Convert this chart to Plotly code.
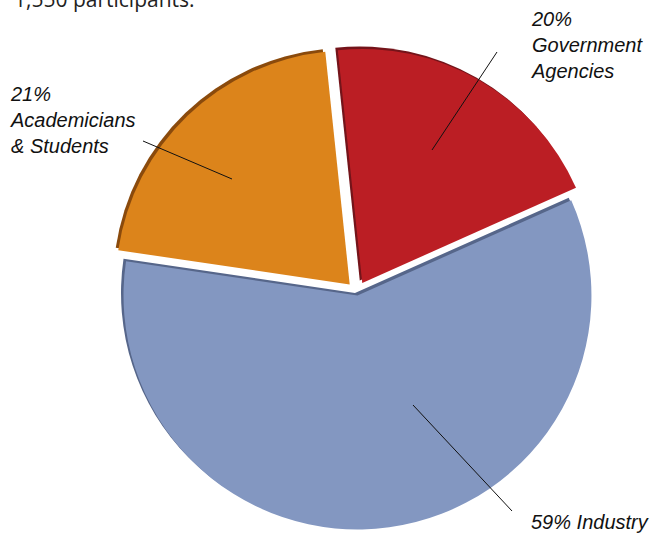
import plotly.graph_objects as go

# ---- data ----
categories = ["Government Agencies", "Industry", "Academicians & Students"]
values = [20, 59, 21]
label_text = ["20%<br>Government<br>Agencies", "59% Industry", "21%<br>Academicians<br>& Students"]
colors = ["#BB1E24", "#8397C1", "#DC841B"]
shadow_colors = ["#74141A", "#56668A", "#8A4A0C"]
pulls = [0.045, 0.015, 0.045]
caption = "1,550 participants."

W, H = 654, 537

def px(x):
    return x / W

def py(y):
    return 1 - y / H

dom_x = [px(112.5), px(601.5)]
dom_y = [py(536.5), py(47.5)]
sh = 2.5

fig = go.Figure()
# bevel / shadow copy
fig.add_trace(go.Pie(
    labels=categories, values=values, sort=False, direction="clockwise",
    rotation=-6, pull=pulls, textinfo="none", hoverinfo="skip",
    marker=dict(colors=shadow_colors, line=dict(width=0)),
    domain=dict(x=[dom_x[0] - sh / W, dom_x[1] - sh / W],
                y=[dom_y[0] + sh / H, dom_y[1] + sh / H]),
    showlegend=False,
))
fig.add_trace(go.Pie(
    labels=categories, values=values, sort=False, direction="clockwise",
    rotation=-6, pull=pulls, textinfo="none", hoverinfo="skip",
    marker=dict(colors=colors, line=dict(width=0)),
    domain=dict(x=dom_x, y=dom_y),
    showlegend=False,
))

lab_font = dict(family="Liberation Sans, Arial, sans-serif", size=20, color="#111111", style="italic")

# labels (text) and leader lines
label_pos = [(529, 45), (529, 522), (8, 120)]
leader = [((497, 52), (432, 150)), ((512, 511), (413, 405)), ((143, 141), (232, 179))]

annotations = []
shapes = []
for t, (lx, ly), ((x0, y0), (x1, y1)) in zip(label_text, label_pos, leader):
    annotations.append(dict(text=t, x=px(lx), y=py(ly), xref="paper", yref="paper",
                            xanchor="left", yanchor="middle", align="left",
                            showarrow=False, font=lab_font))
    shapes.append(dict(type="line", xref="paper", yref="paper",
                       x0=px(x0), y0=py(y0), x1=px(x1), y1=py(y1),
                       line=dict(color="#111111", width=1)))

annotations.append(dict(text=caption, x=px(12), y=py(-1), xref="paper", yref="paper",
                        xanchor="left", yanchor="middle", showarrow=False,
                        font=dict(family="Open Sans, sans-serif", size=21, color="#222222")))

fig.update_layout(
    width=W, height=H,
    margin=dict(l=0, r=0, t=0, b=0),
    paper_bgcolor="white", plot_bgcolor="white",
    annotations=annotations, shapes=shapes,
)

fig.write_html("out.html", config={"displayModeBar": False},
               post_script="document.body.style.margin='0';")
